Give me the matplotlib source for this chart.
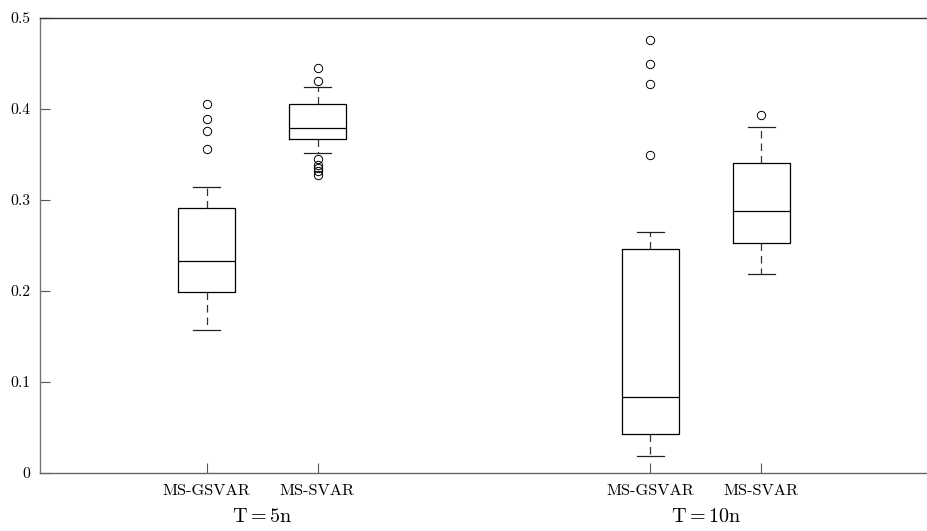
import matplotlib
matplotlib.use("Agg")
import matplotlib.pyplot as plt
from matplotlib.transforms import blended_transform_factory

plt.rcParams['font.family'] = ['cmr10', 'DejaVu Serif']
plt.rcParams['mathtext.fontset'] = 'cm'
plt.rcParams['axes.formatter.use_mathtext'] = True

# ---- data ----
tick_labels = ["MS-GSVAR", "MS-SVAR", "MS-GSVAR", "MS-SVAR"]
group_labels = [r"$\mathrm{T} = 5\mathrm{n}$", r"$\mathrm{T} = 10\mathrm{n}$"]
positions = [1, 2, 5, 6]
group_centers = [1.5, 5.5]

q1 = [0.199, 0.367, 0.043, 0.253]
med = [0.233, 0.379, 0.083, 0.288]
q3 = [0.291, 0.406, 0.246, 0.341]
whislo = [0.157, 0.352, 0.019, 0.219]
whishi = [0.314, 0.424, 0.265, 0.380]
fliers = [
    [0.356, 0.376, 0.389, 0.406],
    [0.445, 0.431, 0.345, 0.338, 0.335, 0.332, 0.327],
    [0.476, 0.450, 0.427, 0.350],
    [0.393],
]
yticks = [0, 0.1, 0.2, 0.3, 0.4, 0.5]
ytick_labels = ["0", "0.1", "0.2", "0.3", "0.4", "0.5"]

stats = []
for i in range(4):
    stats.append(dict(q1=q1[i], med=med[i], q3=q3[i], whislo=whislo[i],
                      whishi=whishi[i], fliers=fliers[i], label=tick_labels[i]))

fig = plt.figure(figsize=(9.28, 5.31), dpi=100)
ax = fig.add_axes([40/928, 58/531, 888/928, 455/531])

ax.bxp(stats, positions=positions, widths=0.51, showfliers=True,
       boxprops=dict(color='black', linewidth=0.9),
       medianprops=dict(color='black', linewidth=0.9),
       whiskerprops=dict(color='#333333', linewidth=0.9, linestyle=(0, (6, 4))),
       capprops=dict(color='#222222', linewidth=0.9),
       capwidths=0.25,
       flierprops=dict(marker='o', markerfacecolor='none', markeredgecolor='black',
                       markersize=6, markeredgewidth=0.7, linestyle='none'),
       manage_ticks=False)

ax.set_xlim(-0.5, 7.5)
ax.set_ylim(0, 0.5)
ax.set_xticks(positions)
ax.set_xticklabels(tick_labels, fontsize=11.8)
ax.set_yticks(yticks)
ax.set_yticklabels(ytick_labels, fontsize=11.3)
ax.tick_params(axis='both', direction='in', length=7, width=0.8, colors='#555555',
               labelcolor='black')
ax.tick_params(axis='x', pad=8)
ax.tick_params(axis='y', pad=7)

ax.spines['right'].set_visible(False)
ax.spines['left'].set_color('#777777')
ax.spines['bottom'].set_color('#666666')
ax.spines['top'].set_color('#333333')
for s in ax.spines.values():
    s.set_linewidth(1.0)

trans = blended_transform_factory(ax.transData, ax.transAxes)
for x, lab in zip(group_centers, group_labels):
    ax.text(x, -0.097, lab, transform=trans, ha='center', va='center', fontsize=14.5)

fig.savefig("out.png", dpi=100)
